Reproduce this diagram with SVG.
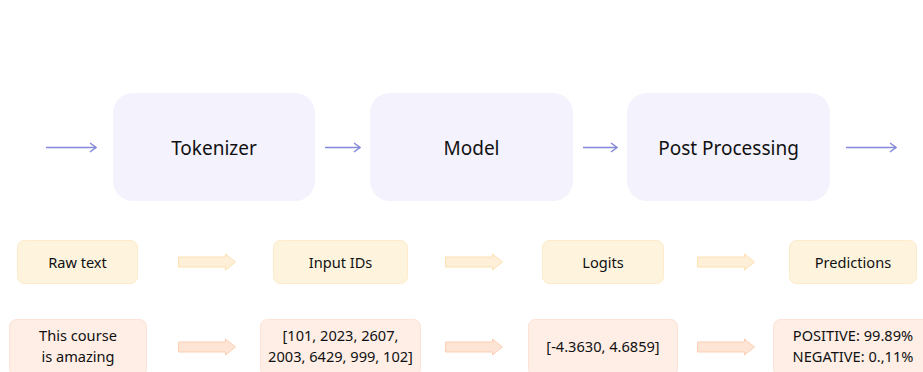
<svg xmlns="http://www.w3.org/2000/svg" width="923" height="372" viewBox="0 0 923 372">
<defs>
<style>
.big{fill:#f4f2fd;}
.bt{font-family:"Source Sans Pro","Noto Sans","Liberation Sans",sans-serif;font-size:19px;fill:#111;text-anchor:middle;}
.y{fill:#fef4de;stroke:#fdebc9;stroke-width:1;}
.o{fill:#feeee5;stroke:#fde3d5;stroke-width:1;}
.st{font-family:"Source Sans Pro","Noto Sans","Liberation Sans",sans-serif;font-size:14.6px;fill:#111;text-anchor:middle;}
.ln{stroke:#8489d9;stroke-width:1.5;fill:none;}
.ya{fill:#fef0d8;stroke:#fde0b0;stroke-width:1;}
.oa{fill:#fee4d4;stroke:#fccfb4;stroke-width:1;}
</style>
<marker id="ah" markerWidth="12" markerHeight="12" refX="9" refY="6" orient="auto" markerUnits="userSpaceOnUse">
<path d="M3,1.5 L9,6 L3,10.5" fill="none" stroke="#8489d9" stroke-width="1.5"/>
</marker>
<path id="ba" d="M0,-5 L47,-5 L47,-8 L57,0 L47,8 L47,5 L0,5 Z"/>
</defs>
<g id="tokenizer"><rect class="big" x="113" y="93" width="202" height="108" rx="20"/><text class="bt" x="214" y="155">Tokenizer</text></g>
<g id="model"><rect class="big" x="370" y="93" width="203" height="108" rx="20"/><text class="bt" x="471.5" y="155">Model</text></g>
<g id="postprocessing"><rect class="big" x="627" y="93" width="203" height="108" rx="20"/><text class="bt" x="728.5" y="155">Post Processing</text></g>

<g id="rawtext"><rect class="y" x="17.5" y="240.5" width="120" height="43" rx="7"/><text class="st" x="77.5" y="267.5">Raw text</text></g>
<g id="inputids"><rect class="y" x="273.5" y="240.5" width="134" height="43" rx="7"/><text class="st" x="340.5" y="267.5">Input IDs</text></g>
<g id="logits"><rect class="y" x="542.5" y="240.5" width="121" height="43" rx="7"/><text class="st" x="603" y="267.5">Logits</text></g>
<g id="predictions"><rect class="y" x="789.5" y="240.5" width="127" height="43" rx="7"/><text class="st" x="853" y="267.5">Predictions</text></g>

<g id="sentence"><rect class="o" x="9.5" y="319.5" width="137" height="56" rx="7"/><text class="st" x="78" y="341">This course</text><text class="st" x="78" y="362">is amazing</text></g>
<g id="ids"><rect class="o" x="260.5" y="319.5" width="160" height="56" rx="7"/><text class="st" x="340.5" y="341">[101, 2023, 2607,</text><text class="st" x="340.5" y="362">2003, 6429, 999, 102]</text></g>
<g id="logitvalues"><rect class="o" x="528.5" y="319.5" width="149" height="56" rx="7"/><text class="st" x="603" y="352">[-4.3630, 4.6859]</text></g>
<g id="probs"><rect class="o" x="773.5" y="319.5" width="160" height="56" rx="7"/><text class="st" x="853" y="341">POSITIVE: 99.89%</text><text class="st" x="853" y="362">NEGATIVE: 0.,11%</text></g>

<g id="connectors">
<line class="ln" x1="46" y1="147.5" x2="96" y2="147.5" marker-end="url(#ah)"/>
<line class="ln" x1="325" y1="147.5" x2="360" y2="147.5" marker-end="url(#ah)"/>
<line class="ln" x1="583" y1="147.5" x2="617" y2="147.5" marker-end="url(#ah)"/>
<line class="ln" x1="846" y1="147.5" x2="896" y2="147.5" marker-end="url(#ah)"/>
<use href="#ba" class="ya" x="178.5" y="262"/>
<use href="#ba" class="ya" x="445.5" y="262"/>
<use href="#ba" class="ya" x="697.5" y="262"/>
<use href="#ba" class="oa" x="178.5" y="347"/>
<use href="#ba" class="oa" x="445.5" y="347"/>
<use href="#ba" class="oa" x="697.5" y="347"/>
</g>
</svg>
